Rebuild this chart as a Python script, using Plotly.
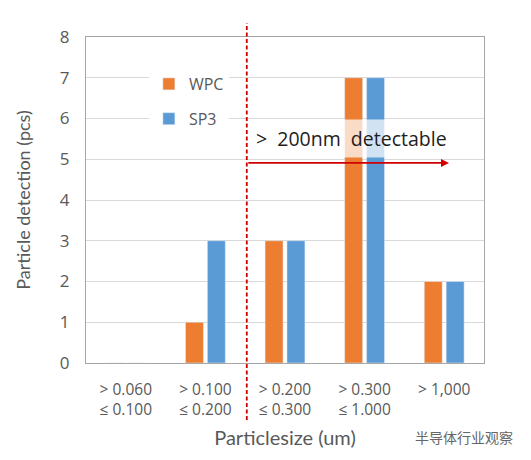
import plotly.graph_objects as go

size_labels = ['> 0.060<br>≤ 0.100', '> 0.100<br>≤ 0.200', '> 0.200<br>≤ 0.300',
               '> 0.300<br>≤ 1.000', '> 1,000<br> ']
wpc_counts = [0, 1, 3, 7, 2]
sp3_counts = [0, 3, 3, 7, 2]

ORANGE = '#ED7D31'
BLUE = '#5B9BD5'
GRAY = '#595959'
RED = '#D00000'
FONT = 'Open Sans, Noto Sans, sans-serif'
TITLE_FONT = 'Lato, Noto Sans, sans-serif'

x_pos = list(range(len(size_labels)))

fig = go.Figure()
fig.add_trace(go.Bar(x=x_pos, y=wpc_counts, name='WPC', marker_color=ORANGE, legendgroup='a'))
fig.add_trace(go.Bar(x=x_pos, y=sp3_counts, name='SP3', marker_color=BLUE, legendgroup='b'))

# dashed threshold line between 0.100-0.200 and 0.200-0.300
fig.add_shape(type='line', xref='x', yref='paper', x0=1.52, x1=1.52, y0=-0.175, y1=1.043,
              line=dict(color=RED, width=1.8, dash='4px,2.5px'))
fig.add_annotation(x=4.06, y=4.91, ax=1.52, ay=4.91, xref='x', yref='y', axref='x', ayref='y',
                   text='', showarrow=True, arrowhead=2, arrowsize=1, arrowwidth=1.6,
                   arrowcolor=RED)
fig.add_annotation(x=2.84, y=5.5, xref='x', yref='y', text='>  200nm  detectable',
                   showarrow=False, font=dict(family=FONT, size=19.5, color='#1e1e1e'),
                   bgcolor='rgba(255,255,255,0.72)', borderpad=5)
fig.add_annotation(x=1.078, y=-0.227, xref='paper', yref='paper', xanchor='right', yanchor='middle',
                   text='半导体行业观察', showarrow=False,
                   font=dict(family='Noto Sans CJK SC', size=14, color='#666666'))

fig.update_layout(
    width=531, height=460,
    margin=dict(l=78, r=55, t=29, b=105),
    paper_bgcolor='white', plot_bgcolor='white',
    barmode='group', bargap=0.45, bargroupgap=0.18,
    font=dict(family=FONT, color=GRAY),
    showlegend=True,
    legend=dict(x=0.158, y=0.908, xanchor='left', yanchor='top', bgcolor='white',
                font=dict(size=16, color=GRAY), itemwidth=30, tracegroupgap=11,
                traceorder='grouped'),
    xaxis=dict(tickmode='array', tickvals=x_pos, ticktext=size_labels,
               tickfont=dict(size=15.5, color=GRAY), range=[-0.5, 4.5],
               showline=True, mirror=True, linecolor='#a6a6a6', linewidth=1,
               ticks='', ticklabelstandoff=12,
               title=dict(text='Particlesize (um)', font=dict(family=TITLE_FONT, size=20, color=GRAY),
                          standoff=12)),
    yaxis=dict(range=[0, 8], dtick=1, tickfont=dict(size=17, color=GRAY),
               showgrid=True, gridcolor='#d9d9d9', gridwidth=1,
               showline=True, mirror=True, linecolor='#a6a6a6', linewidth=1,
               zeroline=False, ticks='', ticklabelstandoff=12,
               title=dict(text='Particle detection (pcs)', font=dict(family=TITLE_FONT, size=18, color=GRAY),
                          standoff=24)),
)

fig.write_html('out.html')
